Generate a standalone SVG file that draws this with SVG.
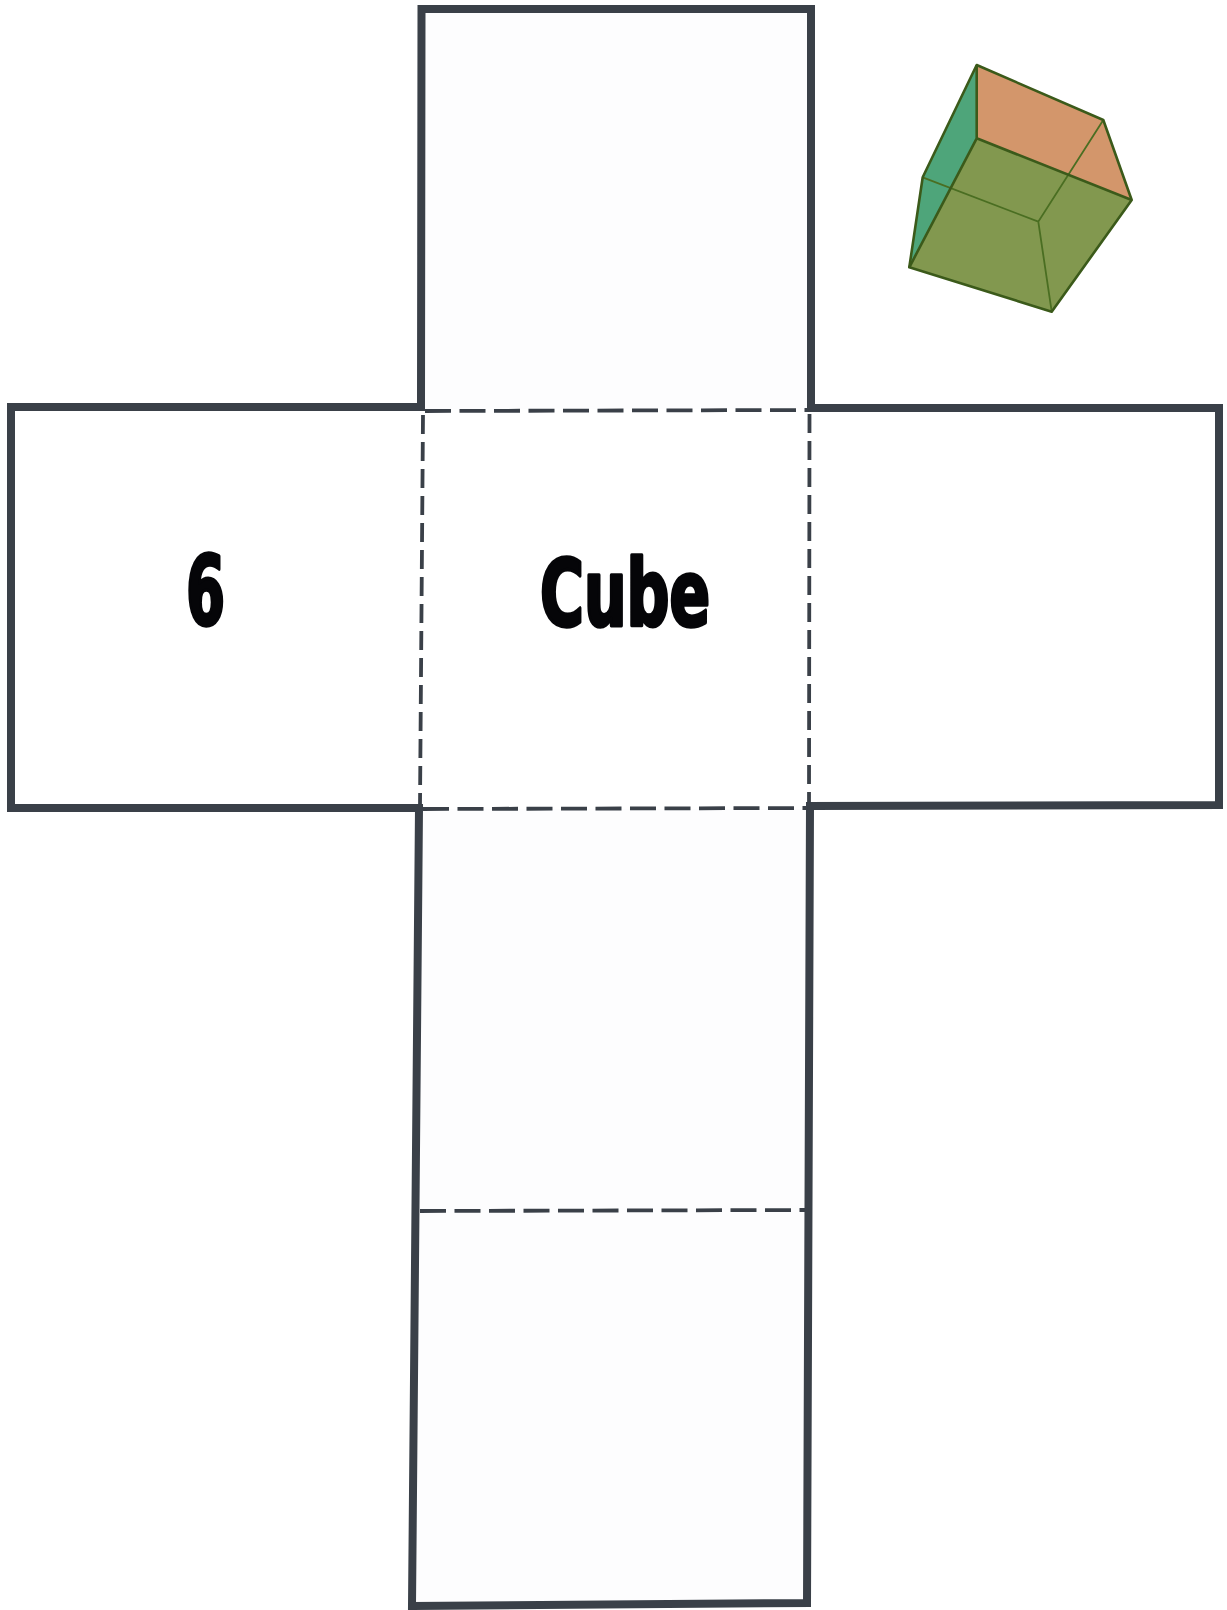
<svg xmlns="http://www.w3.org/2000/svg" width="1227" height="1610" viewBox="0 0 1227 1610">
  <style>
    .cut { fill: none; stroke: #3a4048; stroke-width: 8; stroke-linejoin: miter; }
    .fold { fill: none; stroke: #3a4048; stroke-width: 3.8; }
    .foldh { stroke-dasharray: 26 8.5; }
    .foldv { stroke-dasharray: 19 8; }
    .face { fill: #fdfdfe; stroke: none; }
    .plain { fill: #ffffff; stroke: none; }
    .label { font-family: "Liberation Sans Narrow", "DejaVu Sans Condensed", "Liberation Sans", sans-serif; font-weight: bold; fill: #050508; stroke: #050508; stroke-width: 3.6; stroke-linejoin: round; }
    .edge { fill: none; stroke: #3b5a1a; stroke-width: 2.6; stroke-linejoin: round; }
    .hidden { fill: none; stroke: #4a6e22; stroke-width: 1.8; }
  </style>
  <rect width="1227" height="1610" fill="#ffffff"/>

  <!-- net faces -->
  <g id="face-top">
    <rect class="face" x="421" y="9" width="390" height="400"/>
  </g>
  <g id="face-left">
    <rect class="plain" x="11" y="407" width="411" height="401"/>
    <text class="label" x="186" y="625" font-size="96" textLength="39" lengthAdjust="spacingAndGlyphs">6</text>
  </g>
  <g id="face-center">
    <rect class="plain" x="422" y="410" width="387" height="398"/>
    <text class="label" x="540" y="626" font-size="92" textLength="170" lengthAdjust="spacingAndGlyphs">Cube</text>
  </g>
  <g id="face-right">
    <rect class="plain" x="809" y="408" width="410" height="398"/>
  </g>
  <g id="face-bottom-1">
    <path class="face" d="M419,809 L810,809 L809,1211 L416,1211 Z"/>
  </g>
  <g id="face-bottom-2">
    <path class="face" d="M416,1211 L809,1211 L807,1603 L412,1606 Z"/>
  </g>

  <!-- cut outline and fold lines -->
  <g id="connectors">
    <path class="cut" d="M11,407 L421,407 L421.5,9 L811,9 L811,408 L1219,408 L1219,805 L810,806 L807,1603 L412,1606 L419,808 L11,808 Z"/>
    <path class="fold foldh" d="M425,411 L809,410"/>
    <path class="fold foldv" d="M423,415 L420,806"/>
    <path class="fold foldv" d="M809.5,414 L809,804"/>
    <path class="fold foldh" d="M423,809 L808,808"/>
    <path class="fold foldh" d="M420,1211 L809,1210"/>
  </g>

  <!-- transparent cube illustration -->
  <g id="cube-icon">
    <polygon points="976.7,65 1103.3,120 1131.7,200 976.7,138.3" fill="#d3966b"/>
    <polygon points="976.7,65 976.7,138.3 909.3,267.3 922.7,177.3" fill="#4ea57a"/>
    <polygon points="976.7,138.3 1131.7,200 1051.7,311.7 909.3,267.3" fill="#82984f"/>
    <path class="hidden" d="M922.7,177.3 L1038.3,221.7 L1103.3,120 M1038.3,221.7 L1051.7,311.7"/>
    <path class="edge" d="M976.7,138.3 L976.7,65 M976.7,138.3 L1131.7,200 M976.7,138.3 L909.3,267.3"/>
    <polygon class="edge" points="976.7,65 1103.3,120 1131.7,200 1051.7,311.7 909.3,267.3 922.7,177.3"/>
  </g>
</svg>
